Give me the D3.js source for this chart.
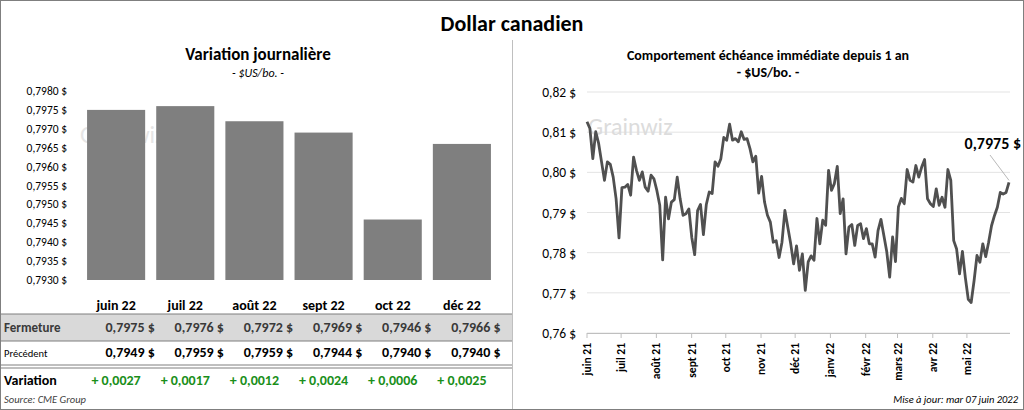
<!DOCTYPE html>
<html><head><meta charset="utf-8">
<script src="https://cdn.jsdelivr.net/npm/d3@7"></script>
<style>body{margin:0;background:#fff;font-family:Calibri,Carlito,"Liberation Sans",Arial,sans-serif}</style>
</head><body><div id="c"></div>
<script>
var months = ["juin 22","juil 22","août 22","sept 22","oct 22","déc 22"];
var closes = [0.7975,0.7976,0.7972,0.7969,0.7946,0.7966];
var prevs = [0.7949,0.7959,0.7959,0.7944,0.7940,0.7940];
var changes = ["+ 0,0027","+ 0,0017","+ 0,0012","+ 0,0024","+ 0,0006","+ 0,0025"];
var barTicks = [0.7930,0.7935,0.7940,0.7945,0.7950,0.7955,0.7960,0.7965,0.7970,0.7975,0.7980];
var lineTicks = [0.76,0.77,0.78,0.79,0.80,0.81,0.82];
var monthLabels = ["juin 21","juil 21","août 21","sept 21","oct 21","nov 21","déc 21","janv 22","févr 22","mars 22","avr 22","mai 22"];
var prices = [0.8126,0.8109,0.8034,0.8101,0.8072,0.8026,0.7980,0.8026,0.8020,0.7988,0.7934,0.7837,0.7962,0.7963,0.7970,0.7943,
0.8038,0.8005,0.7980,0.8001,0.7963,0.7953,0.7993,0.7984,0.7955,0.7918,0.7782,0.7938,0.7884,0.7926,0.7932,0.7988,0.7934,0.7893,
0.7897,0.7909,0.7838,0.7795,0.7905,0.7920,0.7845,0.7920,0.7951,0.7947,0.8026,0.8015,0.8034,0.8087,0.8080,0.8120,0.8080,0.8084,
0.8076,0.8101,0.8082,0.8084,0.8059,0.8026,0.8040,0.7948,0.7990,0.7926,0.7893,0.7876,0.7826,0.7830,0.7788,0.7826,0.7905,0.7863,
0.7822,0.7772,0.7817,0.7756,0.7797,0.7706,0.7777,0.7792,0.7781,0.7885,0.7822,0.7881,0.7868,0.8005,0.7955,0.7972,0.8015,0.7897,
0.7934,0.7797,0.7864,0.7870,0.7818,0.7868,0.7872,0.7835,0.7860,0.7822,0.7822,0.7789,0.7855,0.7883,0.7843,0.7802,0.7739,0.7839,
0.7778,0.7914,0.7935,0.7922,0.8007,0.7980,0.7976,0.8017,0.7988,0.8013,0.8032,0.7934,0.7922,0.7915,0.7959,0.7918,0.7938,0.7913,
0.8007,0.7980,0.7830,0.7809,0.7747,0.7803,0.7738,0.7684,0.7676,0.7730,0.7793,0.7776,0.7822,0.7790,0.7826,0.7867,0.7892,0.7913,
0.7950,0.7946,0.7950,0.7975];

var fr = function(v, d){ return v.toFixed(d).replace(".", ","); };

var svg = d3.select("#c").append("svg").attr("width",1024).attr("height",410);
svg.append("rect").attr("x",0.5).attr("y",0.5).attr("width",1023).attr("height",409).attr("fill","#fff").attr("stroke","#7f7f7f");
svg.append("line").attr("x1",512.5).attr("x2",512.5).attr("y1",40).attr("y2",409).attr("stroke","#bfbfbf");
svg.append("text").attr("x",512).attr("y",31).attr("text-anchor","middle").attr("font-size",22).attr("font-weight","bold").text("Dollar canadien");

// left panel
var L = svg.append("g");
L.append("text").attr("x",258).attr("y",60).attr("text-anchor","middle").attr("font-size",17).attr("font-weight","bold").text("Variation  journalière");
L.append("text").attr("x",258).attr("y",77).attr("text-anchor","middle").attr("font-size",12).attr("font-style","italic").text("- $US/bo. -");
L.append("text").attr("x",80).attr("y",143).attr("font-size",24).attr("fill","#e6e6e6").text("Grainwiz");

var bx = d3.scaleBand().domain(months).range([76,502]).padding(0.16);
var by = d3.scaleLinear().domain([0.7930,0.7980]).range([280,91]);
L.selectAll(".ty").data(barTicks).enter().append("text")
  .attr("x",67).attr("y",function(d){return by(d)+4;}).attr("text-anchor","end").attr("font-size",11.5)
  .text(function(d){return fr(d,4)+" $";});
L.selectAll(".bar").data(closes).enter().append("rect")
  .attr("x",function(d,i){return bx(months[i]);}).attr("width",bx.bandwidth())
  .attr("y",function(d){return by(d);}).attr("height",function(d){return 280-by(d);})
  .attr("fill","#7f7f7f");

// table
var cx = function(i){ return bx(months[i]) + bx.bandwidth()/2; };
L.append("rect").attr("x",1).attr("y",314).attr("width",511).attr("height",27).attr("fill","#d9d9d9");
L.append("line").attr("x1",1).attr("x2",512).attr("y1",314).attr("y2",314).attr("stroke","#7f7f7f");
L.append("line").attr("x1",1).attr("x2",512).attr("y1",341).attr("y2",341).attr("stroke","#7f7f7f");
L.append("line").attr("x1",1).attr("x2",512).attr("y1",365).attr("y2",365).attr("stroke","#7f7f7f");
L.append("line").attr("x1",1).attr("x2",512).attr("y1",368).attr("y2",368).attr("stroke","#7f7f7f");
L.selectAll(".mh").data(months).enter().append("text").attr("x",function(d,i){return cx(i);}).attr("y",310)
  .attr("text-anchor","middle").attr("font-size",14).attr("font-weight","bold").text(function(d){return d;});
L.append("text").attr("x",4).attr("y",332).attr("font-size",13).attr("font-weight","bold").attr("fill","#3a3a3a").text("Fermeture");
L.append("text").attr("x",4).attr("y",357).attr("font-size",10.5).text("Précédent");
L.append("text").attr("x",4).attr("y",385).attr("font-size",14).attr("font-weight","bold").text("Variation");
L.selectAll(".fc").data(closes).enter().append("text").attr("x",function(d,i){return cx(i)+14;}).attr("y",332)
  .attr("text-anchor","middle").attr("font-size",14).attr("font-weight","bold").attr("fill","#3a3a3a")
  .text(function(d){return fr(d,4)+"  $";});
L.selectAll(".pc").data(prevs).enter().append("text").attr("x",function(d,i){return cx(i)+14;}).attr("y",357)
  .attr("text-anchor","middle").attr("font-size",14).attr("font-weight","bold")
  .text(function(d){return fr(d,4)+"  $";});
L.selectAll(".vc").data(changes).enter().append("text").attr("x",function(d,i){return cx(i);}).attr("y",385)
  .attr("text-anchor","middle").attr("font-size",14).attr("font-weight","bold").attr("fill","#1a8f1a")
  .text(function(d){return d;});
L.append("text").attr("x",4).attr("y",403).attr("font-size",10.5).attr("font-style","italic").attr("fill","#404040").text("Source: CME Group");

// right panel
var R = svg.append("g");
R.append("text").attr("x",768).attr("y",60).attr("text-anchor","middle").attr("font-size",14).attr("font-weight","bold").text("Comportement échéance immédiate depuis 1 an");
R.append("text").attr("x",768).attr("y",77).attr("text-anchor","middle").attr("font-size",14).attr("font-weight","bold").text("- $US/bo. -");
var ly = d3.scaleLinear().domain([0.76,0.82]).range([333,92]);
var start = new Date(2021,5,1), end = new Date(2022,5,7);
var lx = d3.scaleTime().domain([start,end]).range([587,1009]);
R.selectAll(".g").data(lineTicks).enter().append("line").attr("x1",587).attr("x2",1010)
  .attr("y1",function(d){return ly(d);}).attr("y2",function(d){return ly(d);}).attr("stroke","#e3e3e3");
R.selectAll(".ly").data(lineTicks).enter().append("text").attr("x",576).attr("y",function(d){return ly(d)+5;})
  .attr("text-anchor","end").attr("font-size",13.5).text(function(d){return fr(d,2)+" $";});
R.append("text").attr("x",588).attr("y",135).attr("font-size",24).attr("fill","#dcdcdc").text("Grainwiz");
R.append("line").attr("x1",587).attr("x2",1010).attr("y1",333.5).attr("y2",333.5).attr("stroke","#bfbfbf");
var mDates = monthLabels.map(function(d,i){return new Date(2021,5+i,1);});
R.selectAll(".mt").data(mDates).enter().append("line").attr("x1",function(d){return lx(d);}).attr("x2",function(d){return lx(d);})
  .attr("y1",333).attr("y2",338).attr("stroke","#bfbfbf");
R.selectAll(".ml").data(monthLabels).enter().append("text")
  .attr("transform",function(d,i){return "translate("+(lx(mDates[i])+4)+",343) rotate(-90)";})
  .attr("text-anchor","end").attr("font-size",11.5).attr("font-weight","bold").text(function(d){return d;});
var step = (end - start) / (prices.length - 1);
var line = d3.line().x(function(d,i){return lx(new Date(+start + i*step));}).y(function(d){return ly(d);});
R.append("path").datum(prices).attr("d",line).attr("fill","none").attr("stroke","#505050").attr("stroke-width",2.8).attr("stroke-linejoin","round");
var last = prices[prices.length-1];
R.append("line").attr("x1",lx(end)).attr("y1",ly(last)-2).attr("x2",990).attr("y2",155).attr("stroke","#a6a6a6").attr("stroke-width",0.8);
R.append("text").attr("x",1021).attr("y",149).attr("text-anchor","end").attr("font-size",16).attr("font-weight","bold").text(fr(last,4)+" $");
R.append("text").attr("x",1018).attr("y",403).attr("text-anchor","end").attr("font-size",10.5).attr("font-style","italic").text("Mise à jour: mar 07 juin 2022");
</script></body></html>
